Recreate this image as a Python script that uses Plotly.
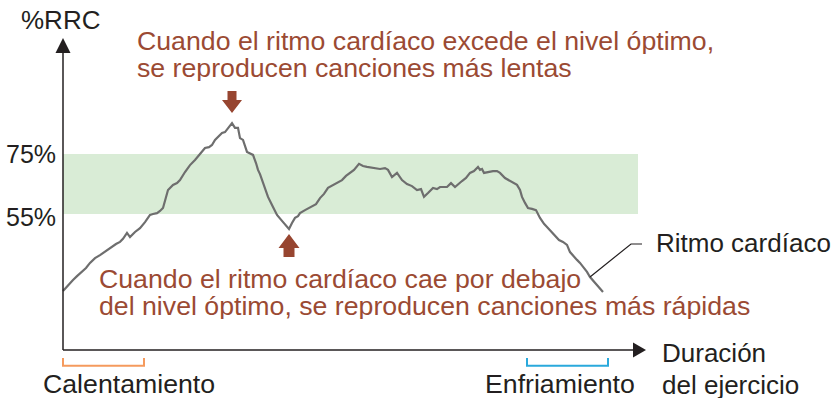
import plotly.graph_objects as go

# Heart-rate trace: exercise duration (min) vs. %RRC
duration = [0.0, 0.5, 1.0, 1.4, 1.7, 2.3, 2.7, 3.2, 3.7, 4.0, 4.4, 4.9, 5.3, 5.7, 6.0, 6.4, 6.7, 7.2, 7.7, 8.2,
            8.7, 9.0, 9.4, 9.7, 10.0, 10.5, 11.0, 11.4, 11.7, 12.2, 12.7, 13.2, 13.7, 14.2, 14.6, 14.9, 15.2, 15.5,
            15.9, 16.2, 16.5, 16.9, 17.2, 17.5, 17.7, 18.0, 18.4, 18.7, 19.0, 19.3, 19.5, 19.7, 19.9, 20.2, 20.5,
            20.9, 21.4, 21.9, 22.4, 22.6, 22.9, 23.2, 23.5, 23.7, 24.2, 24.7, 25.0, 25.3, 25.7, 26.1, 26.5, 27.0,
            27.4, 27.9, 28.3, 28.7, 29.1, 29.6, 30.0, 30.4, 31.0, 31.7, 32.2, 32.5, 32.9, 33.4, 33.9, 34.4, 34.9,
            35.4, 35.8, 36.1, 36.5, 37.0, 37.4, 37.7, 38.4, 38.8, 39.2, 39.6, 39.9, 40.3, 40.7, 41.1, 41.5, 41.7,
            41.9, 42.1, 42.5, 43.0, 43.4, 43.7, 44.2, 44.7, 45.1, 45.4, 45.7, 45.9, 46.2, 46.5, 46.9, 47.3, 47.7,
            48.1, 48.4, 48.8, 49.2, 49.6, 50.0, 50.4, 50.7, 51.1, 51.4, 51.7, 52.1, 52.4, 52.7, 53.2, 53.6, 54.0]
rrc = [29.3, 31.3, 33.0, 34.3, 35.3, 37.0, 38.7, 40.3, 41.3, 42.0, 43.0, 44.0, 45.0, 45.7, 46.7, 48.7, 47.3, 49.0,
       50.3, 52.3, 54.7, 55.0, 55.3, 56.0, 57.0, 63.0, 64.7, 65.3, 66.3, 69.0, 71.3, 73.0, 75.0, 77.0, 77.3, 78.0,
       79.7, 80.7, 82.0, 82.3, 83.7, 85.3, 83.7, 83.7, 80.3, 79.7, 75.7, 75.3, 74.7, 72.0, 69.7, 68.3, 66.3, 63.7,
       60.7, 58.0, 54.7, 52.7, 50.7, 50.0, 52.0, 53.7, 54.3, 55.3, 56.3, 57.3, 57.7, 58.3, 60.3, 61.7, 63.7, 64.7,
       65.3, 66.3, 67.7, 68.7, 69.7, 71.7, 71.0, 70.7, 70.3, 70.0, 70.3, 69.7, 67.3, 68.7, 66.3, 65.0, 64.3, 63.0,
       63.3, 60.7, 62.0, 63.7, 63.3, 64.0, 64.0, 65.3, 64.0, 65.3, 66.0, 67.0, 68.7, 69.3, 70.7, 69.7, 70.0, 68.7,
       69.0, 69.3, 69.3, 68.7, 67.0, 66.0, 65.3, 64.7, 63.0, 60.7, 58.7, 57.0, 56.7, 56.3, 53.7, 51.7, 50.7, 49.3,
       48.0, 46.3, 45.7, 44.7, 42.3, 41.0, 39.7, 38.7, 37.0, 35.7, 34.0, 32.0, 30.7, 29.0]

# Optimal zone bounds and tick labels
zone_low, zone_high = 55, 75
tick_values = [75, 55]
tick_labels = ["75%", "55%"]

# Phase ranges on the duration axis
warmup = [0.0, 8.1]
cooldown = [46.4, 54.5]

# Axis extents
x_origin, y_origin = 0.0, 9.7
x_end, y_end = 58.3, 113.7
zone_end = 57.5

BLACK = "#231f20"
BROWN = "#9b4a33"
ARROW = "#974530"
LINE = "#6e6e6e"
FONT = "Liberation Sans"

fig = go.Figure()
fig.add_trace(go.Scatter(x=duration, y=rrc, mode="lines",
                         line=dict(color=LINE, width=2.2), hoverinfo="skip", showlegend=False))

shapes = []
# optimal zone band
shapes.append(dict(type="rect", xref="x", yref="y", x0=x_origin, x1=zone_end, y0=zone_low, y1=zone_high,
                   fillcolor="#d9ecd6", line=dict(width=0), layer="below"))
# axes
shapes.append(dict(type="line", x0=x_origin, x1=x_origin, y0=y_origin, y1=y_end - 4,
                   line=dict(color=BLACK, width=1.5)))
shapes.append(dict(type="line", x0=x_origin, x1=x_end - 1.2, y0=y_origin, y1=y_origin,
                   line=dict(color=BLACK, width=1.5)))
shapes.append(dict(type="path", path=f"M {x_origin-0.75},{y_end-5} L {x_origin+0.75},{y_end-5} L {x_origin},{y_end} Z",
                   fillcolor=BLACK, line=dict(width=0)))
shapes.append(dict(type="path", path=f"M {x_end-1.3},{y_origin+2.5} L {x_end-1.3},{y_origin-2.5} L {x_end},{y_origin} Z",
                   fillcolor=BLACK, line=dict(width=0)))

# phase brackets
def bracket(x0, x1, color):
    top, bottom = 7.0, 4.4
    return dict(type="path", path=f"M {x0},{top} L {x0},{bottom} L {x1},{bottom} L {x1},{top}",
                line=dict(color=color, width=2))

shapes.append(bracket(warmup[0], warmup[1], "#f59a5d"))
shapes.append(bracket(cooldown[0], cooldown[1], "#2aa9dc"))

# block arrows marking the peak and the following trough
peak_i = rrc.index(max(rrc))
low_i = peak_i + rrc[peak_i:80].index(min(rrc[peak_i:80]))
px, py = duration[peak_i], rrc[peak_i]
tx, ty = duration[low_i], rrc[low_i]
shapes.append(dict(type="path",
                   path=(f"M {px-0.45},{py+10.7} L {px+0.45},{py+10.7} L {px+0.45},{py+7.7} L {px+1.0},{py+7.7} "
                         f"L {px},{py+3.4} L {px-1.0},{py+7.7} L {px-0.45},{py+7.7} Z"),
                   fillcolor=ARROW, line=dict(width=0)))
shapes.append(dict(type="path",
                   path=(f"M {tx-0.55},{ty-9.3} L {tx+0.55},{ty-9.3} L {tx+0.55},{ty-6.3} L {tx+1.05},{ty-6.3} "
                         f"L {tx},{ty-1.7} L {tx-1.05},{ty-6.3} L {tx-0.55},{ty-6.3} Z"),
                   fillcolor=ARROW, line=dict(width=0)))

# leader line for the series label
shapes.append(dict(type="path", path="M 52.7,34.0 L 56.8,45.0 L 57.9,45.0",
                   line=dict(color=BLACK, width=1.2)))

ann = []
def text(x, y, s, color=BLACK, xanchor="left", size=26.7, yshift=0):
    ann.append(dict(x=x, y=y, xref="x", yref="y", text=s, showarrow=False, xanchor=xanchor, yanchor="middle",
                    height=26, yshift=yshift, font=dict(family=FONT, size=size, color=color)))

text(-0.3, 119.7, "%RRC", xanchor="center", size=26)
for v, lab in zip(tick_values, tick_labels):
    text(-0.5, v, lab, xanchor="right", size=25, yshift=-3 if v == zone_low else 0)
text(7.2, 112.7, "Cuando el ritmo cardíaco excede el nivel óptimo,", BROWN)
text(7.2, 103.7, "se reproducen canciones más lentas", BROWN)
text(3.4, 33.3, "Cuando el ritmo cardíaco cae por debajo", BROWN)
text(3.4, 24.3, "del nivel óptimo, se reproducen canciones más rápidas", BROWN)
text(59.1, 45.3, "Ritmo cardíaco", size=26)
text(59.7, 8.7, "Duración", size=26)
text(59.7, -2.0, "del ejercicio", size=26)
text(-2.2, -1.7, "Calentamiento")
text(42.0, -1.7, "Enfriamiento")

fig.update_layout(
    width=835, height=401,
    margin=dict(l=0, r=0, t=0, b=0),
    paper_bgcolor="white", plot_bgcolor="white",
    xaxis=dict(range=[-6.3, 77.2], visible=False, fixedrange=True),
    yaxis=dict(range=[-7.33, 126.33], visible=False, fixedrange=True),
    shapes=shapes, annotations=ann,
)

fig.write_html("out.html")
